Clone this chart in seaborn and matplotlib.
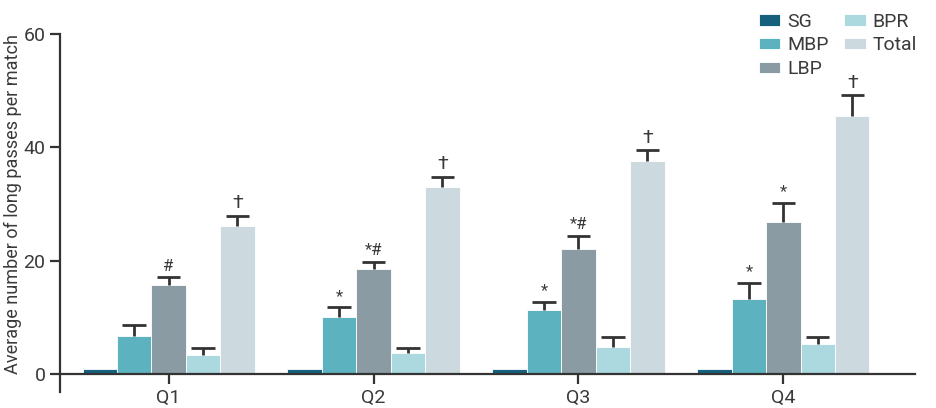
import pandas as pd
import numpy as np
import seaborn as sns
import matplotlib.pyplot as plt

quarters = ['Q1', 'Q2', 'Q3', 'Q4']
groups = ['SG', 'MBP', 'LBP', 'BPR', 'Total']
sg = [0.8, 0.8, 0.8, 0.8]
mbp = [6.7, 10.1, 11.3, 13.2]
lbp = [15.7, 18.5, 22.1, 26.8]
bpr = [3.4, 3.7, 4.8, 5.3]
total = [26.1, 33.0, 37.6, 45.5]
sg_err = [0.0, 0.0, 0.0, 0.0]
mbp_err = [1.9, 1.7, 1.4, 2.9]
lbp_err = [1.4, 1.3, 2.3, 3.4]
bpr_err = [1.2, 0.9, 1.7, 1.2]
total_err = [1.8, 1.8, 1.9, 3.7]
# significance marks per group, per quarter
marks = {
    'SG': ['', '', '', ''],
    'MBP': ['', '*', '*', '*'],
    'LBP': ['#', '*#', '*#', '*'],
    'BPR': ['', '', '', ''],
    'Total': ['\u2020', '\u2020', '\u2020', '\u2020'],
}
colors = ['#15607d', '#5db2bf', '#8a9ba3', '#abd9df', '#ccd9de']

vals = [sg, mbp, lbp, bpr, total]
errs = [sg_err, mbp_err, lbp_err, bpr_err, total_err]
rows = []
for g, v, e in zip(groups, vals, errs):
    for q, a, b in zip(quarters, v, e):
        rows.append({'quarter': q, 'group': g, 'value': a, 'err': b})
df = pd.DataFrame(rows)

sns.set_style('ticks')
plt.rcParams['font.family'] = ['Roboto', 'DejaVu Sans']
txt = '#3a3a3a'
ink = '#333333'

fig = plt.figure(figsize=(9.37, 4.08), dpi=100)
ax = fig.add_axes([0.064, 0.039, 0.912, 0.878])
sns.barplot(data=df, x='quarter', y='value', hue='group', palette=colors,
            width=0.84, errorbar=None, saturation=1, ax=ax,
            edgecolor='white', linewidth=0.6)

# upper-only error bars with a cap on top
for cont, g in zip(ax.containers, groups):
    sub = df[df['group'] == g]
    for bar, e, m in zip(cont, sub['err'], marks[g]):
        x = bar.get_x() + bar.get_width() / 2
        h = bar.get_height()
        hw = bar.get_width() * 0.34
        if e > 0:
            ax.vlines(x, h, h + e, color=ink, linewidth=2)
            ax.hlines(h + e, x - hw, x + hw, color=ink, linewidth=2)
        if m:
            ax.text(x, h + e + 0.6, m, ha='center', va='bottom',
                    fontsize=14 if m == '\u2020' else 12, color=txt)

ax.set_xlim(-0.53, 3.64)
ax.set_ylim(-3.2, 60)
ax.set_yticks([0, 20, 40, 60])
ax.spines['top'].set_visible(False)
ax.spines['right'].set_visible(False)
ax.spines['bottom'].set_position(('data', 0))
ax.spines['left'].set_bounds(-3.2, 60)
for s in ['left', 'bottom']:
    ax.spines[s].set_linewidth(1.6)
    ax.spines[s].set_color(ink)
ax.tick_params(axis='both', length=7, width=1.6, color=ink,
               labelsize=14, labelcolor=txt)
ax.set_xlabel('')
ax.set_ylabel('Average number of long passes per match', fontsize=13,
              color=txt)
ax.yaxis.set_label_coords(-0.044, 0.525)

ax.legend(ncol=2, frameon=False, loc='upper right',
          bbox_to_anchor=(0.997, 1.012), bbox_transform=fig.transFigure,
          fontsize=14, labelcolor=txt, handlelength=1.1, handleheight=0.55,
          handletextpad=0.35, columnspacing=0.8, labelspacing=0.3)

fig.savefig('out.png', dpi=100)
